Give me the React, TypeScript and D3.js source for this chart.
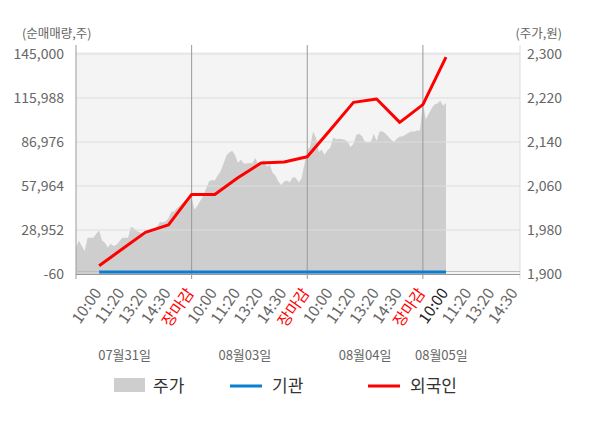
import { useEffect, useRef } from "react";
import * as d3 from "d3";

// 4 trading days, 5 label slots per day (the last day is still open)
const TIME_LABELS = [
  "10:00", "11:20", "13:20", "14:30", "장마감",
  "10:00", "11:20", "13:20", "14:30", "장마감",
  "10:00", "11:20", "13:20", "14:30", "장마감",
  "10:00", "11:20", "13:20", "14:30",
];
const DAYS = ["07월31일", "08월03일", "08월04일", "08월05일"];
const DAY_LABEL_SLOT = [2.1, 7.3, 12.5, 15.8];

const LEFT_TICKS = [-60, 28952, 57964, 86976, 115988, 145000];
const RIGHT_TICKS = [1900, 1980, 2060, 2140, 2220, 2300];

// cumulative net volume, one point per label slot
const FOREIGN = [
  5400, 16400, 27400, 32300, 52400, 52400, 63400, 73100,
  73800, 77200, 95100, 113100, 115300, 99900, 111600, 143000,
];
const INSTITUTION = [
  1300, 1300, 1300, 1300, 1300, 1300, 1300, 1300,
  1300, 1300, 1300, 1300, 1300, 1300, 1300, 1300,
];

// intraday price, 40 samples per full day
const PRICE_0731 = [
  1948, 1961, 1951, 1942, 1966, 1966, 1966, 1973, 1979, 1961,
  1957, 1948, 1955, 1951, 1953, 1959, 1966, 1966, 1966, 1986,
  1983, 1978, 1976, 1973, 1975, 1976, 1980, 1982, 1986, 1994,
  1994, 1995, 2002, 2013, 2014, 2020, 2025, 2030, 2035, 2038,
];
const PRICE_0803 = [
  2038, 2017, 2024, 2033, 2042, 2055, 2068, 2071, 2070, 2079,
  2087, 2100, 2115, 2121, 2124, 2117, 2102, 2108, 2101, 2101,
  2102, 2101, 2111, 2100, 2101, 2107, 2095, 2099, 2084, 2079,
  2068, 2062, 2068, 2070, 2067, 2076, 2075, 2067, 2073, 2099,
];
const PRICE_0804 = [
  2126, 2131, 2159, 2148, 2122, 2126, 2117, 2125, 2130, 2148,
  2145, 2146, 2145, 2144, 2140, 2131, 2137, 2153, 2155, 2150,
  2140, 2139, 2140, 2155, 2142, 2159, 2159, 2156, 2150, 2144,
  2140, 2146, 2150, 2150, 2153, 2157, 2159, 2159, 2161, 2161,
];
const PRICE_0805 = [2211, 2181, 2191, 2201, 2208, 2210, 2215, 2206, 2211];

const PRICES = [PRICE_0731, PRICE_0803, PRICE_0804, PRICE_0805];
const SLOTS_PER_DAY = 5;
const SAMPLES_PER_DAY = 40;

const FONT = "'Noto Sans CJK KR', 'Noto Sans', sans-serif";
const GRAY_TEXT = "#666";

export default function App() {
  const svgRef = useRef<SVGSVGElement>(null);

  useEffect(() => {
    if (!svgRef.current) return;
    const svg = d3.select(svgRef.current);
    svg.selectAll("*").remove();

    const left = 76;
    const right = 520;
    const top = 54;
    const bottom = 274;

    const x = d3.scaleLinear().domain([0, 19.2]).range([left, right]);
    const yL = d3.scaleLinear().domain([-60, 145000]).range([bottom, top]);
    const yR = d3.scaleLinear().domain([1900, 2300]).range([bottom, top]);

    // plot background
    svg.append("rect")
      .attr("x", left)
      .attr("y", top - 2)
      .attr("width", right - left)
      .attr("height", bottom - top + 2)
      .attr("fill", "#f4f4f4");

    // price area
    const pricePts = PRICES.flatMap((day, d) =>
      day.map((p, i) => ({ s: d * SLOTS_PER_DAY + (i * SLOTS_PER_DAY) / SAMPLES_PER_DAY, p }))
    );
    const area = d3.area<{ s: number; p: number }>()
      .x((d) => x(d.s))
      .y0(yR(1900))
      .y1((d) => yR(d.p));
    svg.append("path").datum(pricePts).attr("d", area).attr("fill", "#cecece");

    // horizontal grid
    svg.append("g")
      .selectAll("line")
      .data(LEFT_TICKS.slice(1))
      .join("line")
      .attr("x1", left)
      .attr("x2", right)
      .attr("y1", (d) => yL(d))
      .attr("y2", (d) => yL(d))
      .attr("stroke", "#dcdcdc")
      .attr("stroke-width", 1);

    // day separators + frame
    const dayEdges = [1, 2, 3].map((d) => x(d * SLOTS_PER_DAY));
    svg.append("g")
      .selectAll("line")
      .data([left, ...dayEdges])
      .join("line")
      .attr("x1", (d) => d)
      .attr("x2", (d) => d)
      .attr("y1", top - 9)
      .attr("y2", bottom + 5)
      .attr("stroke", "#999")
      .attr("stroke-width", 1);
    svg.append("line")
      .attr("x1", right).attr("x2", right)
      .attr("y1", top - 9).attr("y2", bottom + 5)
      .attr("stroke", "#ddd");
    svg.append("line")
      .attr("x1", left).attr("x2", right)
      .attr("y1", bottom + 0.5).attr("y2", bottom + 0.5)
      .attr("stroke", "#999");
    svg.append("line")
      .attr("x1", left).attr("x2", right)
      .attr("y1", bottom - 2.5).attr("y2", bottom - 2.5)
      .attr("stroke", "#bbb");

    // lines
    const line = d3.line<number>()
      .x((_, i) => x(i + 1))
      .y((d) => yL(d));
    svg.append("path")
      .datum(INSTITUTION)
      .attr("d", line)
      .attr("fill", "none")
      .attr("stroke", "#0a7fd1")
      .attr("stroke-width", 3);
    svg.append("path")
      .datum(FOREIGN)
      .attr("d", line)
      .attr("fill", "none")
      .attr("stroke", "#ff0000")
      .attr("stroke-width", 3)
      .attr("stroke-linejoin", "round");

    // y axes
    const fmt = (d: d3.NumberValue) => (+d).toLocaleString("en-US");
    const gl = svg.append("g")
      .attr("transform", `translate(${left},0)`)
      .call(d3.axisLeft(yL).tickValues(LEFT_TICKS).tickSize(0).tickPadding(12).tickFormat(fmt));
    const gr = svg.append("g")
      .attr("transform", `translate(${right},0)`)
      .call(d3.axisRight(yR).tickValues(RIGHT_TICKS).tickSize(0).tickPadding(7).tickFormat(fmt));
    [gl, gr].forEach((g) => {
      g.select(".domain").remove();
      g.selectAll("text")
        .attr("fill", GRAY_TEXT)
        .attr("font-size", "14px")
        .attr("font-family", FONT);
    });

    svg.append("text")
      .attr("x", 22).attr("y", 38)
      .attr("fill", GRAY_TEXT).attr("font-size", "12.5px").attr("font-family", FONT)
      .text("(순매매량,주)");
    svg.append("text")
      .attr("x", 562).attr("y", 38)
      .attr("text-anchor", "end")
      .attr("fill", GRAY_TEXT).attr("font-size", "12.5px").attr("font-family", FONT)
      .text("(주가,원)");

    // x labels
    svg.append("g")
      .selectAll("text")
      .data(TIME_LABELS)
      .join("text")
      .attr("transform", (_, i) => `translate(${x(i + 1) + 3},${bottom + 19}) rotate(-55)`)
      .attr("text-anchor", "end")
      .attr("font-size", "15.5px")
      .attr("font-family", FONT)
      .attr("fill", (d, i) =>
        d === "장마감" ? "#ff0000" : i + 1 === FOREIGN.length ? "#222" : GRAY_TEXT
      )
      .text((d) => d);

    svg.append("g")
      .selectAll("text")
      .data(DAYS)
      .join("text")
      .attr("x", (_, i) => x(DAY_LABEL_SLOT[i]))
      .attr("y", 360)
      .attr("text-anchor", "middle")
      .attr("font-size", "13px")
      .attr("font-family", FONT)
      .attr("fill", GRAY_TEXT)
      .text((d) => d);

    // legend
    const lg = svg.append("g").attr("font-family", FONT).attr("font-size", "17px").attr("fill", "#333");
    lg.append("rect").attr("x", 114).attr("y", 378).attr("width", 31).attr("height", 14).attr("fill", "#cecece");
    lg.append("text").attr("x", 153).attr("y", 392).text("주가");
    lg.append("line").attr("x1", 230).attr("x2", 262).attr("y1", 386).attr("y2", 386)
      .attr("stroke", "#0a7fd1").attr("stroke-width", 3);
    lg.append("text").attr("x", 272).attr("y", 392).text("기관");
    lg.append("line").attr("x1", 368).attr("x2", 400).attr("y1", 386).attr("y2", 386)
      .attr("stroke", "#ff0000").attr("stroke-width", 3);
    lg.append("text").attr("x", 410).attr("y", 392).text("외국인");
  }, []);

  return (
    <div style={{ position: "absolute", left: 0, top: 0 }}>
      <svg ref={svgRef} width={600} height={428} style={{ display: "block", background: "#fff" }} />
    </div>
  );
}
